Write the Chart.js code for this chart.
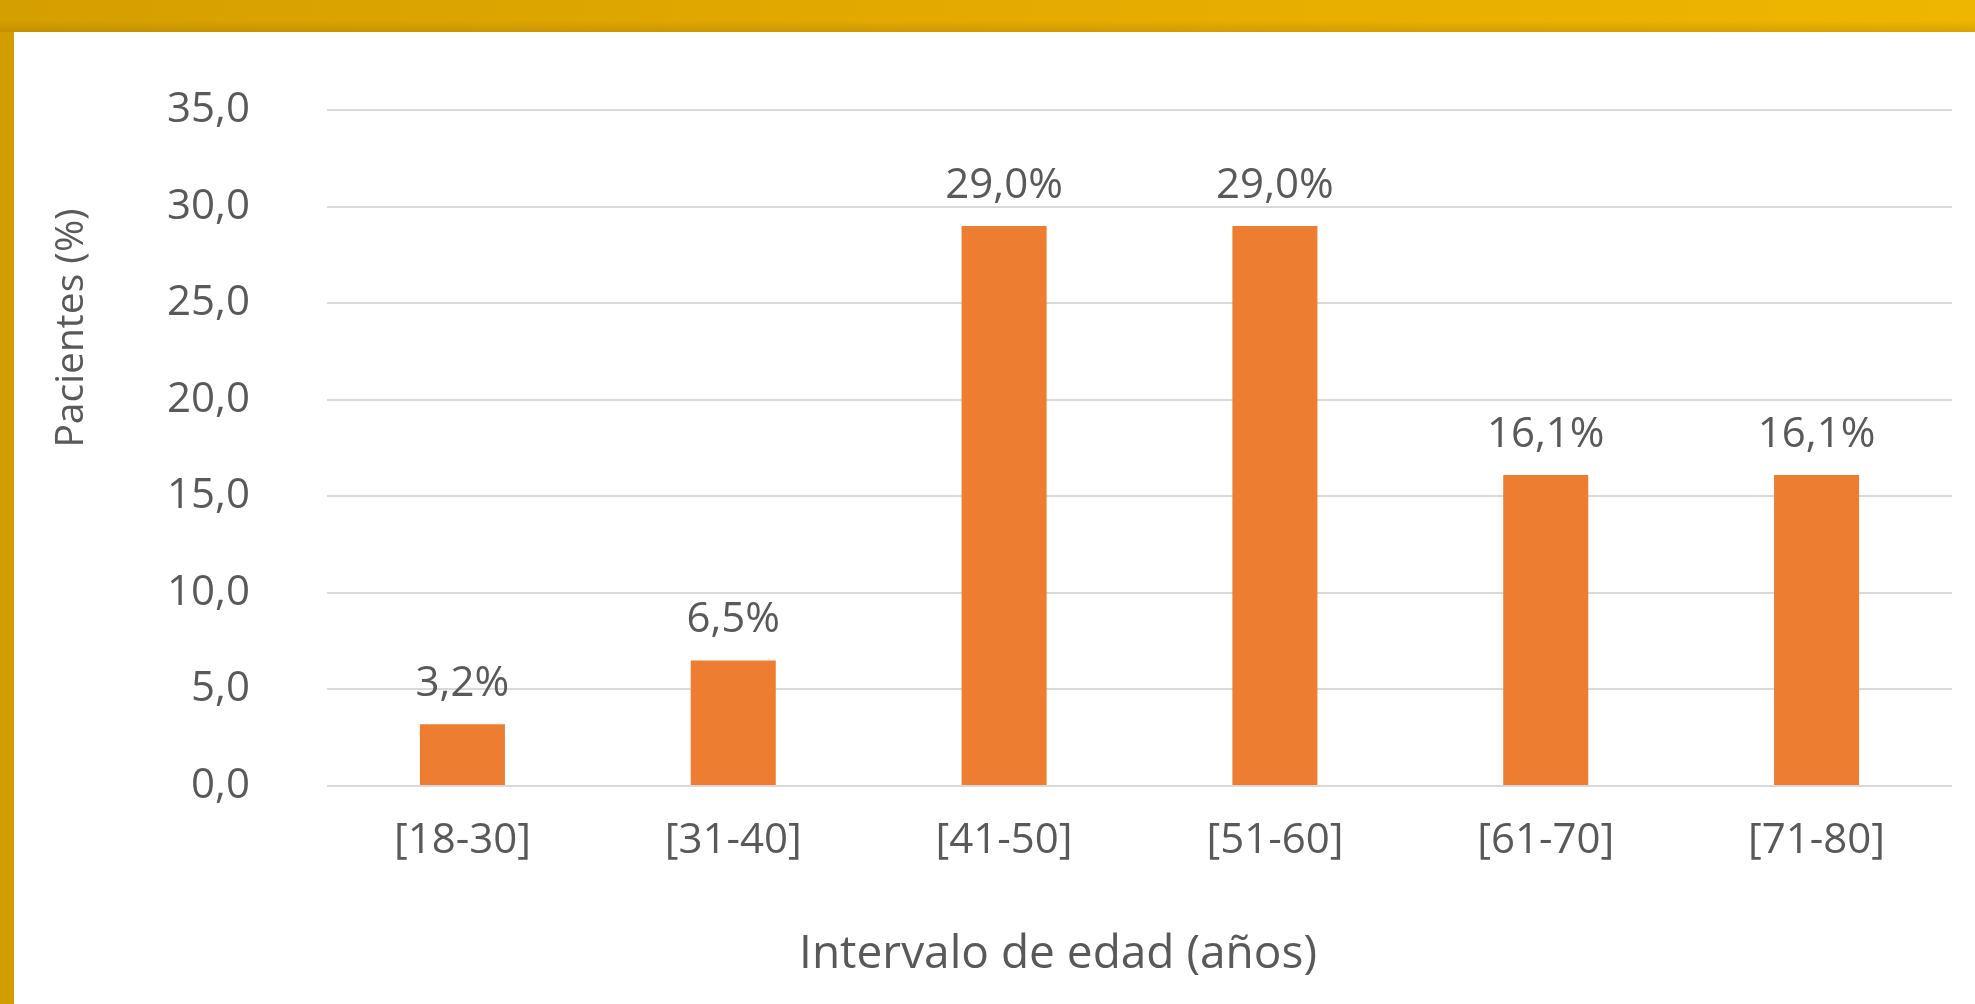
<!DOCTYPE html>
<html>
<head>
<meta charset="utf-8">
<script src="https://cdn.jsdelivr.net/npm/chart.js@4/dist/chart.umd.min.js"></script>
<style>
  html, body { margin: 0; padding: 0; background: #fff; width: 1975px; height: 1004px; overflow: hidden; }
  #topBar {
    position: absolute; left: 0; top: 0; width: 1975px; height: 32px;
    background:
      linear-gradient(to bottom, rgba(255,255,255,0) 65%, rgba(140,90,0,0.22) 100%),
      linear-gradient(to right, #d49f00, #e4aa00 50%, #efb600);
  }
  #leftBar { position: absolute; left: 0; top: 0; width: 14px; height: 1004px; background: #d39d00; }
  #myChart { position: absolute; left: 14px; top: 32px; }
</style>
</head>
<body>
<div id="leftBar"></div>
<div id="topBar"></div>
<canvas id="myChart" width="1961" height="972"></canvas>
<script>
// datos
const categorias = ['[18-30]', '[31-40]', '[41-50]', '[51-60]', '[61-70]', '[71-80]'];
const pacientes = [3.2, 6.5, 29.0, 29.0, 16.1, 16.1];
const yTicks = [0, 5, 10, 15, 20, 25, 30, 35];

const tituloX = 'Intervalo de edad (años)';
const tituloY = 'Pacientes (%)';

const gris = '#595959';
const fuente = "'Open Sans', sans-serif";

const coma = (v, d) => v.toFixed(d).replace('.', ',');

// etiquetas encima de cada barra
const etiquetas = {
  id: 'etiquetas',
  afterDatasetsDraw(chart) {
    const ctx = chart.ctx;
    const meta = chart.getDatasetMeta(0);
    ctx.save();
    ctx.font = '42px ' + fuente;
    ctx.fillStyle = gris;
    ctx.textAlign = 'center';
    ctx.textBaseline = 'alphabetic';
    meta.data.forEach((bar, i) => {
      ctx.fillText(coma(pacientes[i], 1) + '%', bar.x, bar.y - 28);
    });
    ctx.restore();
  }
};

// titulos de los ejes (en el original no estan centrados)
const titulos = {
  id: 'titulos',
  afterDraw(chart) {
    const ctx = chart.ctx;
    ctx.save();
    ctx.fillStyle = gris;
    ctx.textAlign = 'center';
    ctx.textBaseline = 'middle';
    ctx.font = '46px ' + fuente;
    ctx.fillText(tituloX, 1044, 923);
    ctx.translate(58, 296);
    ctx.rotate(-Math.PI / 2);
    ctx.font = '39px ' + fuente;
    ctx.fillText(tituloY, 0, 0);
    ctx.restore();
  }
};

const ctx = document.getElementById('myChart').getContext('2d');

new Chart(ctx, {
  type: 'bar',
  data: {
    labels: categorias,
    datasets: [{
      data: pacientes,
      backgroundColor: '#ed7d31',
      borderWidth: 0,
      categoryPercentage: 1,
      barPercentage: 0.314
    }]
  },
  options: {
    responsive: false,
    animation: false,
    layout: { padding: { left: 0, top: 78, right: 23, bottom: 0 } },
    plugins: {
      legend: { display: false },
      tooltip: { enabled: false }
    },
    scales: {
      x: {
        grid: { display: false, drawTicks: false },
        border: { display: false },
        ticks: { color: gris, font: { family: fuente, size: 42 }, padding: 30 },
        afterFit: (scale) => { scale.height = 218; }
      },
      y: {
        min: 0,
        max: 35,
        afterBuildTicks: (scale) => { scale.ticks = yTicks.map(v => ({ value: v })); },
        grid: { color: '#d9d9d9', lineWidth: 2, drawTicks: false },
        border: { display: false },
        ticks: {
          color: gris,
          font: { family: fuente, size: 42 },
          padding: 77,
          callback: (v) => coma(v, 1)
        },
        afterFit: (scale) => {
          scale.width = 313;
          // el padding de las marcas no debe empujar el area hacia abajo
          scale.paddingTop = 0;
          scale.paddingBottom = 0;
        }
      }
    }
  },
  plugins: [etiquetas, titulos]
});
</script>
</body>
</html>
